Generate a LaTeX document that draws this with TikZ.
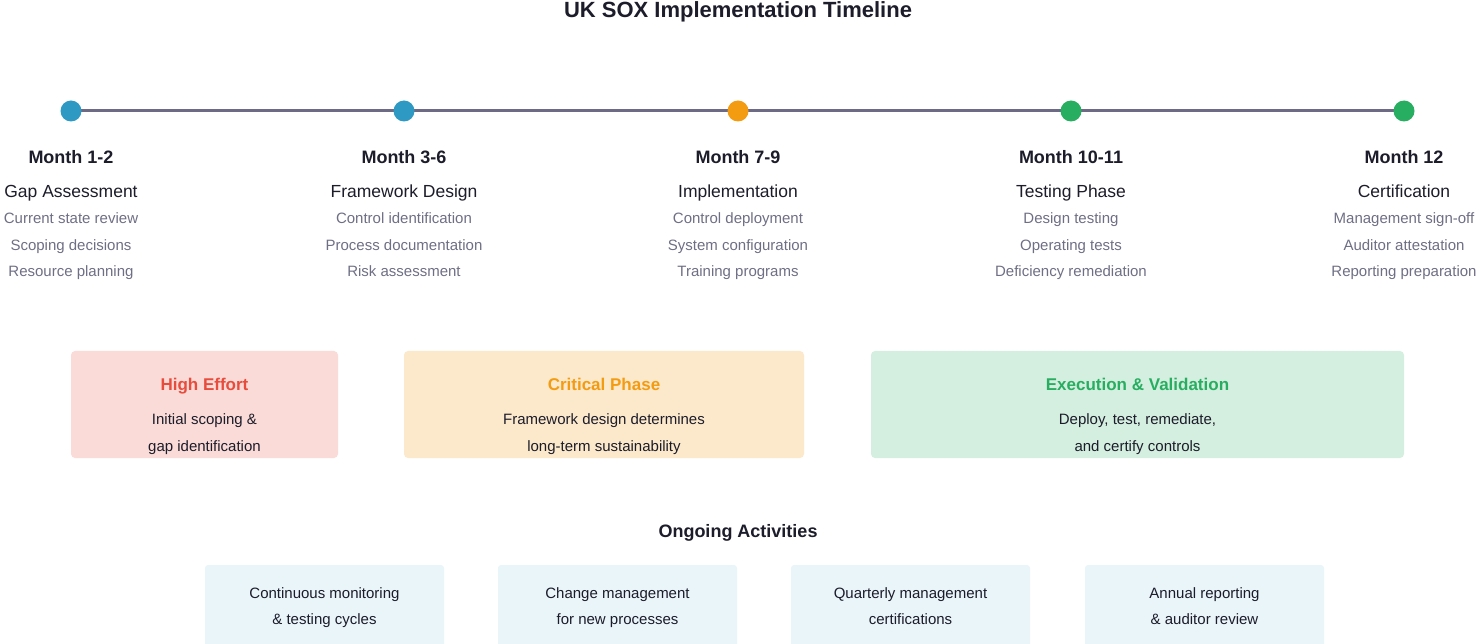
\documentclass[tikz,border=0pt]{standalone}
\usepackage{fontspec}
\setmainfont{Liberation Sans}
\definecolor{axis}{HTML}{6C6A85}
\definecolor{cblue}{HTML}{2E9AC4}
\definecolor{corange}{HTML}{F39C12}
\definecolor{cgreen}{HTML}{27AE60}
\definecolor{cred}{HTML}{E74C3C}
\definecolor{ink}{HTML}{1C1C2A}
\definecolor{muted}{HTML}{6E6E85}
\tikzset{
  dot/.style={circle,inner sep=0pt,minimum size=21pt},
  month/.style={anchor=base,font=\bfseries\fontsize{18}{20}\selectfont,text=ink},
  phase/.style={anchor=base,font=\fontsize{17.5}{20}\selectfont,text=ink},
  item/.style={anchor=base,font=\fontsize{15}{18}\selectfont,text=muted},
  band/.style={rounded corners=4pt},
  bandtitle/.style={anchor=base,font=\bfseries\fontsize{17}{20}\selectfont},
  bandtext/.style={anchor=base,font=\fontsize{15}{18}\selectfont,text=ink},
  ongoing/.style={rounded corners=3pt,fill=cblue!10}
}
\begin{document}
\begin{tikzpicture}[x=1pt,y=-1pt]
  \useasboundingbox (0,0) rectangle (1481,644);
  \node[anchor=base,font=\bfseries\fontsize{22}{24}\selectfont,text=ink] (title) at (738,18) {UK SOX Implementation Timeline};
  % timeline
  \draw[axis,line width=3pt] (71,111) -- (1404,111);
  \node[dot,fill=cblue] (d1) at (71,111) {};
  \node[dot,fill=cblue] (d2) at (404,111) {};
  \node[dot,fill=corange] (d3) at (738,111) {};
  \node[dot,fill=cgreen] (d4) at (1071,111) {};
  \node[dot,fill=cgreen] (d5) at (1404,111) {};
  % milestones
  \foreach \x/\m/\p/\a/\b/\c in {
    71/Month 1-2/Gap Assessment/Current state review/Scoping decisions/Resource planning,
    404/Month 3-6/Framework Design/Control identification/Process documentation/Risk assessment,
    738/Month 7-9/Implementation/Control deployment/System configuration/Training programs,
    1071/Month 10-11/Testing Phase/Design testing/Operating tests/Deficiency remediation,
    1404/Month 12/Certification/Management sign-off/Auditor attestation/Reporting preparation}{
    \node[month] at (\x,164) {\m};
    \node[phase] at (\x,198) {\p};
    \node[item] at (\x,224) {\a};
    \node[item] at (\x,251) {\b};
    \node[item] at (\x,277) {\c};
  }
  % effort bands
  \fill[band,cred!20] (71,351) rectangle (338,458);
  \node[bandtitle,text=cred] (high) at (204.5,391) {High Effort};
  \node[bandtext] at (204.5,424) {Initial scoping \&};
  \node[bandtext] at (204.5,451) {gap identification};
  \fill[band,corange!22] (404,351) rectangle (804,458);
  \node[bandtitle,text=corange] (crit) at (604,391) {Critical Phase};
  \node[bandtext] at (604,424) {Framework design determines};
  \node[bandtext] at (604,451) {long-term sustainability};
  \fill[band,cgreen!20] (871,351) rectangle (1404,458);
  \node[bandtitle,text=cgreen] (exec) at (1137.5,391) {Execution \& Validation};
  \node[bandtext] at (1137.5,424) {Deploy, test, remediate,};
  \node[bandtext] at (1137.5,451) {and certify controls};
  % ongoing
  \node[anchor=base,font=\bfseries\fontsize{18}{20}\selectfont,text=ink] (ong) at (738,537) {Ongoing Activities};
  \foreach \x/\a/\b in {205/Continuous monitoring/\& testing cycles,
    498/Change management/for new processes,
    791/Quarterly management/certifications,
    1085/Annual reporting/\& auditor review}{
    \fill[ongoing] (\x,565) rectangle (\x+239,650);
    \node[bandtext] at (\x+119.5,598) {\a};
    \node[bandtext] at (\x+119.5,624) {\b};
  }
\end{tikzpicture}
\end{document}
